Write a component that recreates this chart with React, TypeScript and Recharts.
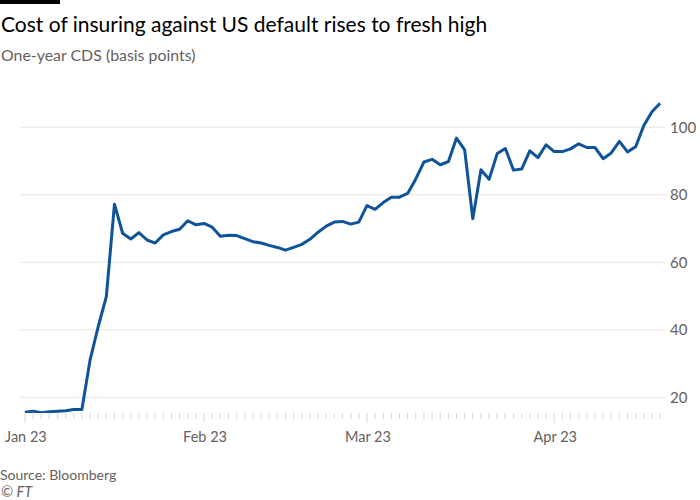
import React from 'react';
import { LineChart, Line, XAxis, YAxis, CartesianGrid } from 'recharts';

// One-year CDS (basis points), one value per business day from 23 Jan 2023
const cdsValues: number[] = [
  15.6, 15.9, 15.4, 15.7, 15.9, 16.0, 16.4, 16.4, 31.0, 40.9,
  49.8, 77.2, 68.6, 66.9, 68.8, 66.6, 65.7, 68.1, 69.1, 69.8,
  72.3, 71.1, 71.5, 70.4, 67.7, 68.0, 67.9, 67.0, 66.1, 65.7,
  65.0, 64.4, 63.6, 64.4, 65.3, 66.8, 68.9, 70.7, 71.9, 72.1,
  71.3, 71.9, 76.8, 75.7, 77.7, 79.3, 79.3, 80.4, 84.7, 89.7,
  90.5, 88.9, 89.8, 96.8, 93.3, 72.9, 87.4, 84.6, 92.2, 93.7,
  87.3, 87.6, 93.0, 91.0, 94.8, 92.8, 92.8, 93.6, 95.1, 94.0,
  94.0, 90.7, 92.4, 95.8, 92.7, 94.2, 100.5, 104.6, 107.1,
];

const xTickIndex: number[] = [0, 22, 42, 65];
const xTickLabels: string[] = ['Jan 23', 'Feb 23', 'Mar 23', 'Apr 23'];
const yTicks: number[] = [20, 40, 60, 80, 100];

const data = cdsValues.map((v, i) => ({ i, v }));
const allTicks = cdsValues.map((_, i) => i);

const FONT = 'Lato, "Open Sans", sans-serif';
const GREY = '#66605c';

const XTick = (props: any) => {
  const { x, y, payload } = props;
  const idx = xTickIndex.indexOf(payload.value);
  const major = idx >= 0;
  return (
    <g>
      <line x1={x} x2={x} y1={y} y2={y + (major ? 10 : 6)} stroke="#ddd5ce" strokeWidth={1} />
      {major && (
        <text x={x + 1} y={y + 28.7} textAnchor="middle" fill={GREY} fontSize={14.5} fontFamily={FONT}>
          {xTickLabels[idx]}
        </text>
      )}
    </g>
  );
};

export default function App() {
  return (
    <div style={{ position: 'absolute', left: 0, top: 0, width: 700, height: 500, background: '#fff', overflow: 'hidden' }}>
      <LineChart
        width={700}
        height={500}
        data={data}
        margin={{ top: 93.5, right: 0, left: 20, bottom: 57 }}
      >
        <CartesianGrid
          horizontal
          vertical={false}
          horizontalValues={yTicks}
          stroke="#ebe4de"
          strokeWidth={1}
        />
        <XAxis
          dataKey="i"
          type="number"
          domain={[-0.6, 78.6]}
          ticks={allTicks}
          interval={0}
          allowDataOverflow
          axisLine={false}
          tickLine={false}
          tickSize={0}
          tickMargin={0}
          height={30}
          tick={<XTick />}
        />
        <YAxis
          orientation="right"
          type="number"
          domain={[15.35, 110]}
          ticks={yTicks}
          allowDataOverflow
          axisLine={false}
          tickLine={false}
          tickSize={0}
          tickMargin={5}
          width={35}
          tick={{ fill: GREY, fontSize: 15, fontFamily: FONT }}
        />
        <Line
          type="linear"
          dataKey="v"
          stroke="#0f5499"
          strokeWidth={3}
          dot={false}
          strokeLinejoin="round"
          isAnimationActive={false}
        />
      </LineChart>
      <svg width={700} height={500} style={{ position: 'absolute', left: 0, top: 0, pointerEvents: 'none' }}>
        <rect x={0} y={0} width={60} height={4} fill="#000" />
        <text x={1} y={31.7} fontSize={21} fill="#000" fontFamily={FONT}>
          Cost of insuring against US default rises to fresh high
        </text>
        <text x={1} y={60.5} fontSize={15.9} fill={GREY} fontFamily={FONT}>
          One-year CDS (basis points)
        </text>
        <text x={0} y={480} fontSize={14} fill={GREY} fontFamily={FONT}>
          Source: Bloomberg
        </text>
        <text x={1} y={496.5} fontSize={14.5} fill={GREY} fontFamily={FONT} fontStyle="italic">
          © FT
        </text>
      </svg>
    </div>
  );
}
